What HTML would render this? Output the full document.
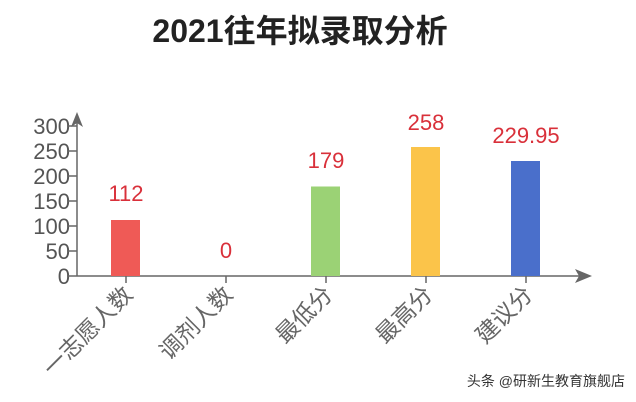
<!DOCTYPE html>
<html><head><meta charset="utf-8"><style>
html,body{margin:0;padding:0;background:#fff;}
svg{display:block;}
text{font-family:"Liberation Sans","Noto Sans CJK SC",sans-serif;}
</style></head><body>
<svg width="636" height="402" viewBox="0 0 636 402">
<rect width="636" height="402" fill="#fff"/>
<text x="300" y="42" text-anchor="middle" font-size="32" font-weight="bold" fill="#222">2021往年拟录取分析</text>
<g fill="#555" font-size="22" text-anchor="end">
<text x="70" y="134">300</text>
<text x="70" y="159">250</text>
<text x="70" y="184">200</text>
<text x="70" y="209">150</text>
<text x="70" y="234">100</text>
<text x="70" y="259">50</text>
<text x="70" y="284">0</text>
</g>
<g stroke="#666" stroke-width="1.5">
<line x1="67" y1="126" x2="77" y2="126"/><line x1="67" y1="151" x2="77" y2="151"/>
<line x1="67" y1="176" x2="77" y2="176"/><line x1="67" y1="201" x2="77" y2="201"/>
<line x1="67" y1="226" x2="77" y2="226"/><line x1="67" y1="251" x2="77" y2="251"/>
<line x1="77" y1="118" x2="77" y2="276"/>
<line x1="67" y1="276" x2="582" y2="276"/>
<line x1="126" y1="276" x2="126" y2="283"/><line x1="226" y1="276" x2="226" y2="283"/>
<line x1="326" y1="276" x2="326" y2="283"/><line x1="426" y1="276" x2="426" y2="283"/>
<line x1="526" y1="276" x2="526" y2="283"/>
</g>
<polygon points="77,112 71,127 77,123 83,127" fill="#666"/>
<polygon points="592,276 575,269 579,276 575,283" fill="#666"/>
<rect x="111" y="220" width="29" height="56" fill="#ef5a56"/>
<rect x="311" y="186.5" width="29" height="89.5" fill="#9bd275"/>
<rect x="411" y="147" width="29" height="129" fill="#fbc44a"/>
<rect x="511" y="161" width="29" height="115" fill="#4a6fcb"/>
<g fill="#d9303a" font-size="22" text-anchor="middle">
<text x="126" y="201">112</text>
<text x="226" y="258">0</text>
<text x="326" y="168">179</text>
<text x="426" y="130">258</text>
<text x="526" y="143">229.95</text>
</g>
<g fill="#666" font-size="23" text-anchor="end">
<text transform="translate(134,296) rotate(-45)">一志愿人数</text>
<text transform="translate(234,296) rotate(-45)">调剂人数</text>
<text transform="translate(334,296) rotate(-45)">最低分</text>
<text transform="translate(434,296) rotate(-45)">最高分</text>
<text transform="translate(534,296) rotate(-45)">建议分</text>
</g>
<text x="625" y="386" text-anchor="end" font-size="14" fill="#333">头条 @研新生教育旗舰店</text>
</svg>
</body></html>
